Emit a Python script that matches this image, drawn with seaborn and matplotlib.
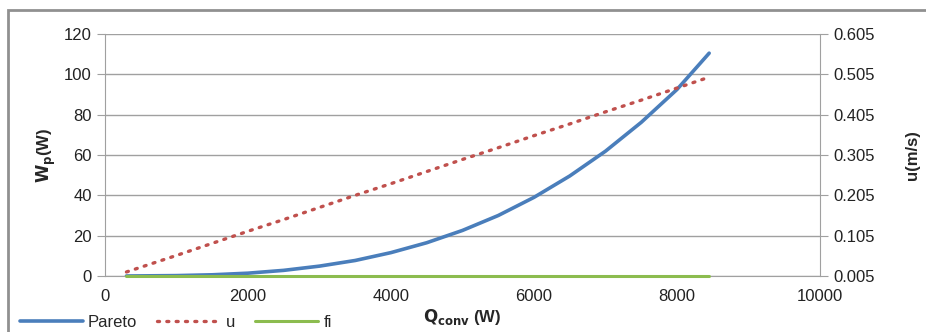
import numpy as np
import pandas as pd
import matplotlib.pyplot as plt
import seaborn as sns
from matplotlib.patches import Rectangle

# values
q_conv = [300, 1000, 1500, 2000, 2500, 3000, 3500, 4000, 4500, 5000,
          5500, 6000, 6500, 7000, 7500, 8000, 8450]
pareto = [0.0, 0.2, 0.6, 1.4, 2.8, 4.9, 7.7, 11.6, 16.5, 22.6,
          30.0, 39.0, 49.6, 61.9, 76.2, 92.5, 110.5]
u_vals = [0.015, 0.056, 0.086, 0.116, 0.145, 0.175, 0.205, 0.234, 0.264, 0.294,
          0.323, 0.353, 0.382, 0.412, 0.441, 0.471, 0.498]
fi_vals = [0.0] * len(q_conv)

df = pd.DataFrame({"Q": q_conv, "Pareto": pareto, "u": u_vals, "fi": fi_vals})

sns.set_style("white")
plt.rcParams['font.family'] = ['Liberation Sans', 'DejaVu Sans']

fig = plt.figure(figsize=(9.26, 3.32), dpi=100)
ax = fig.add_axes([105/926, 1-276/332, 715/926, 242/332])

grid_c = "#a0a0a0"
sns.lineplot(data=df, x="Q", y="Pareto", ax=ax, color="#4a7ebb", lw=2.6, label="Pareto", legend=False)
sns.lineplot(data=df, x="Q", y="fi", ax=ax, color="#8cbc4f", lw=2.2, label="fi", legend=False,
             zorder=5, clip_on=False)

ax2 = ax.twinx()
sns.lineplot(data=df, x="Q", y="u", ax=ax2, color="#c0504d", lw=2.4, ls=(0, (0.6, 2.2)),
             dash_capstyle="round", label="u", legend=False)

ax.set_xlim(0, 10000)
ax.set_ylim(0, 120)
ax2.set_ylim(0.005, 0.605)
ax.set_xticks(np.arange(0, 10001, 2000))
ax.set_yticks(np.arange(0, 121, 20))
ax2.set_yticks([0.005, 0.105, 0.205, 0.305, 0.405, 0.505, 0.605])
ax2.set_yticklabels(["0.005", "0.105", "0.205", "0.305", "0.405", "0.505", "0.605"])

ax.yaxis.grid(True, color=grid_c, lw=1)
ax.set_axisbelow(True)
for a in (ax, ax2):
    a.spines["top"].set_visible(False)
    for s in a.spines.values():
        s.set_color(grid_c)
    a.tick_params(labelsize=12, colors="#222222", length=6, direction="out")
    a.tick_params(axis="both", color=grid_c)
ax.spines["right"].set_visible(False)
ax2.spines["left"].set_visible(False)
ax2.spines["bottom"].set_visible(False)
ax2.spines["right"].set_visible(True)

ax.set_xlabel(r"$\mathbf{Q_{conv}}$" + " (W)", fontsize=12, fontweight="bold", labelpad=2)
ax.set_ylabel(r"$\mathbf{W_p}$" + "(W)", fontsize=12, fontweight="bold")
ax2.set_ylabel("u(m/s)", fontsize=12, fontweight="bold", labelpad=22)

h1, l1 = ax.get_legend_handles_labels()
h2, l2 = ax2.get_legend_handles_labels()
handles = [h1[0], h2[0], h1[1]]
labels = [l1[0], l2[0], l1[1]]
fig.legend(handles, labels, loc="lower left", bbox_to_anchor=(0.005, -0.04), ncol=3,
           frameon=False, fontsize=12, handlelength=3.8, columnspacing=1.2, handletextpad=0.3)

fig.patches.append(Rectangle((8/926, -0.2), 1.0, 1.2 - 10/332, transform=fig.transFigure,
                             fill=False, edgecolor="#909090", lw=2, zorder=-1))

fig.savefig("out.png", dpi=100)
